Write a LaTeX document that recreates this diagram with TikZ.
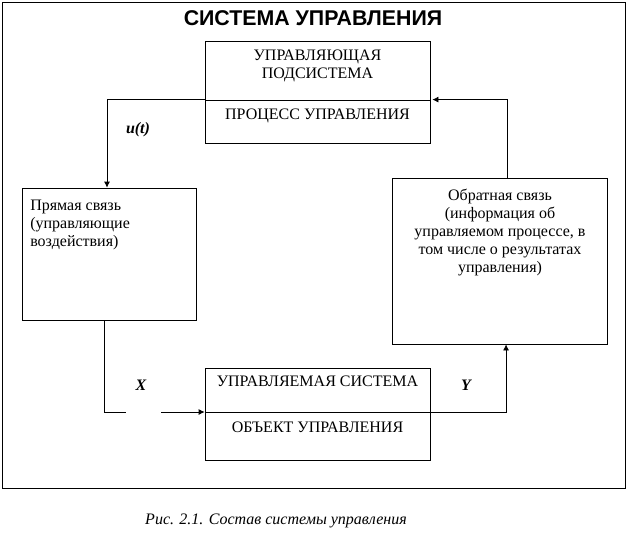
\documentclass[tikz,border=0pt]{standalone}
\usepackage{fontspec}
\setmainfont{Liberation Serif}
\newfontfamily\headfont{Liberation Sans}
\usepackage{tikz}
\usetikzlibrary{arrows.meta}
\tikzstyle{box}=[draw=black, shape=rectangle, inner sep=0pt, line width=0.6pt]
\tikzstyle{txt}=[inner sep=0pt, font=\fontsize{12pt}{13.5pt}\selectfont]
\tikzstyle{lbl}=[inner sep=0pt, font=\fontsize{12pt}{13.5pt}\selectfont\bfseries\itshape]
\tikzstyle{ed}=[-, draw=black, line width=0.6pt]
\tikzstyle{arr}=[-{Latex[length=4.5pt,width=4.5pt]}, draw=black, line width=0.6pt]

\begin{document}
\begin{tikzpicture}[x=0.75pt, y=-0.75pt]
    	\useasboundingbox (0,0) rectangle (627,557);
    	\draw [line width=0.7pt] (2,2) rectangle (625,488);
    	\node [font=\headfont\fontsize{16pt}{18pt}\selectfont\bfseries, inner sep=0pt] (title) at (313,18) {СИСТЕМА УПРАВЛЕНИЯ};
    	\node [style=box, minimum width=168.75pt, minimum height=44.25pt] (ctl) at (317.5,70.5) {};
    	\node [style=box, minimum width=168.75pt, minimum height=32.25pt] (proc) at (317.5,121.5) {};
    	\node [style=box, minimum width=130.5pt, minimum height=99pt] (fwd) at (109,254) {};
    	\node [style=box, minimum width=161.25pt, minimum height=124.5pt] (fb) at (499.5,261) {};
    	\node [style=box, minimum width=168.75pt, minimum height=33pt] (objtop) at (317.5,390) {};
    	\node [style=box, minimum width=168.75pt, minimum height=36pt] (objbot) at (317.5,436) {};
    	\node [style=txt, align=center] (ctltxt) at (317.5,65.5) {УПРАВЛЯЮЩАЯ\\ПОДСИСТЕМА};
    	\node [style=txt] (proctxt) at (317.5,116) {ПРОЦЕСС УПРАВЛЕНИЯ};
    	\node [style=txt, align=left, anchor=north west] (fwdtxt) at (30,200) {Прямая связь\\(управляющие\\воздействия)};
    	\node [style=txt, align=center] (fbtxt) at (500,232.5) {Обратная связь\\(информация об\\управляемом процессе, в\\том числе о результатах\\управления)};
    	\node [style=txt] (objtoptxt) at (317.5,381.5) {УПРАВЛЯЕМАЯ СИСТЕМА};
    	\node [style=txt] (objbottxt) at (317.5,427) {ОБЪЕКТ УПРАВЛЕНИЯ};
    	\node [style=lbl] (u) at (138,130) {u(t)};
    	\node [style=lbl] (x) at (141,385) {X};
    	\node [style=lbl] (y) at (466,385) {Y};
    	\node [style=txt, font=\fontsize{12pt}{13.5pt}\selectfont\itshape] (cap) at (276,521) {Рис. 2.1. Состав системы управления};
    	\coordinate (xcut) at (126,412);
    	\coordinate (xgap) at (161,412);
    	\draw [style=arr] (proc.north west) -| ([xshift=-1.5pt]fwd.north);
    	\draw [style=ed] ([xshift=-3.75pt]fwd.south) |- (xcut);
    	\draw [style=arr] (xgap) -- (xgap -| objtop.west);
    	\draw [style=arr] (objtop.south east) -| ([xshift=4.9pt]fb.south);
    	\draw [style=arr] ([xshift=6pt]fb.north) |- ([xshift=1.5pt]proc.north east);
    \end{tikzpicture}
\end{document}
